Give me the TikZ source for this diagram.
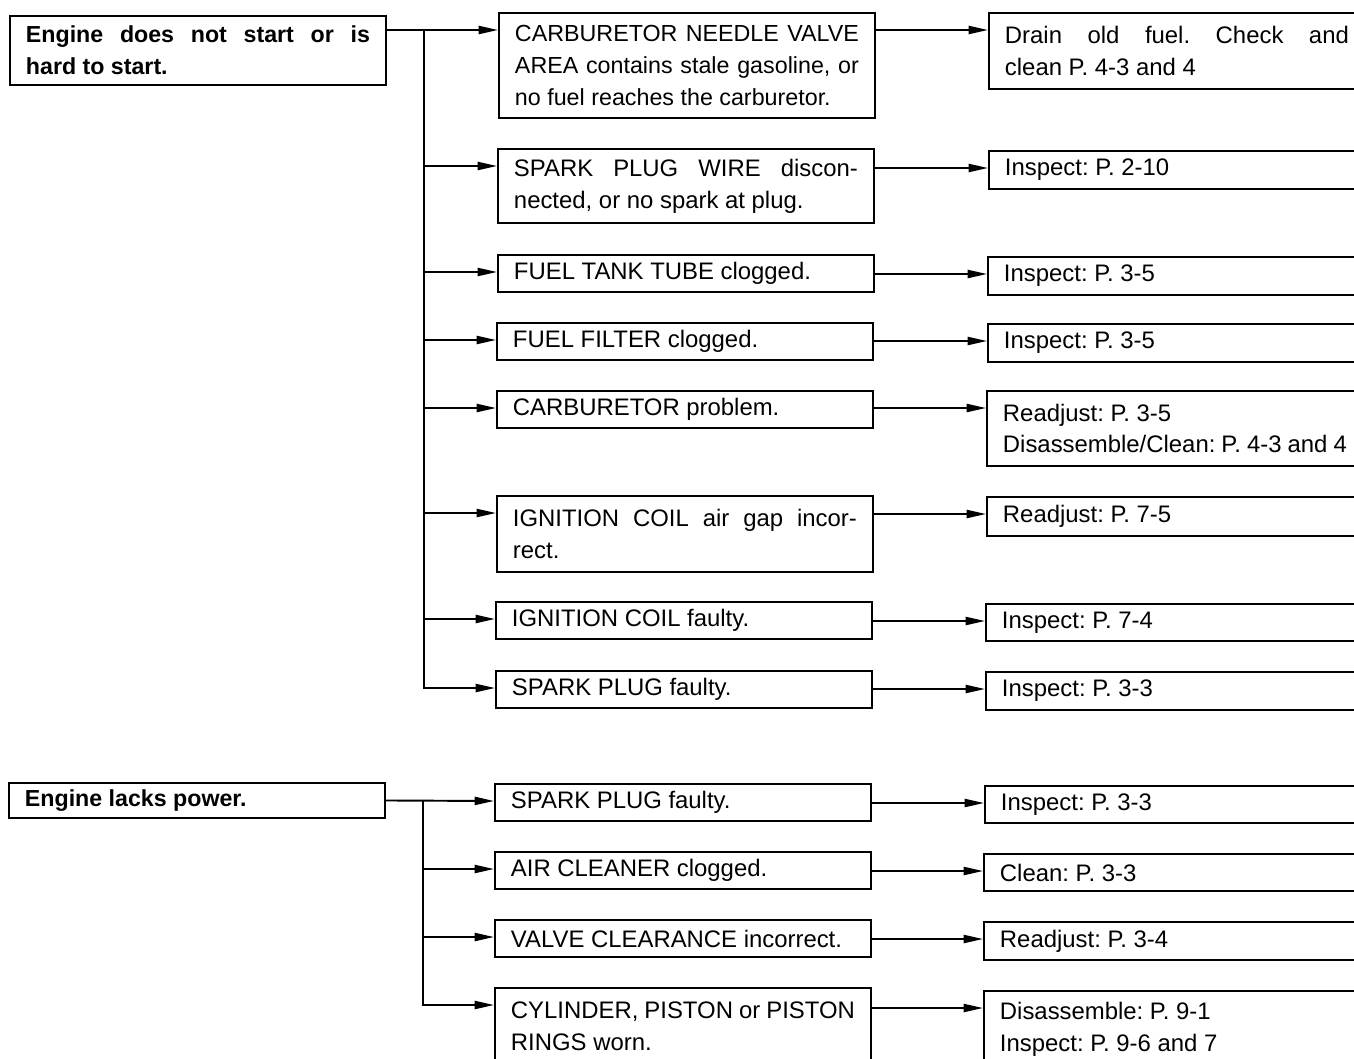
\documentclass[tikz,border=0pt]{standalone}
\usepackage{fontspec}
\setmainfont{Liberation Sans}
\usetikzlibrary{arrows.meta,calc}
\tikzset{
  fault/.style={draw, line width=1.1pt, anchor=north west, align=justify,
    text width=6.88cm, inner xsep=0.32cm, inner ysep=0pt,
    font=\fontsize{13.6}{18.2}\selectfont\frenchspacing},
  remedy/.style={fault},
  symptom/.style={fault, font=\fontsize{13.2}{18.2}\selectfont\bfseries\frenchspacing},
  link/.style={line width=1.1pt},
  flow/.style={link, -{Triangle[length=11pt,width=4.6pt]}}
}
\begin{document}
\begin{tikzpicture}[x=0.02cm, y=-0.02cm]
  \clip (0,0) rectangle (1354,1058);
  % first symptom, its causes (left column) and remedies (right column)
  \node[symptom, minimum height=1.38cm] (start) at (9,15) {Engine does not start or is\linebreak hard to start.};

  \node[fault, minimum height=2.1cm, font=\fontsize{13.25}{18.2}\selectfont\frenchspacing] (c1) at (498,12) {CARBURETOR NEEDLE VALVE\linebreak AREA contains stale gasoline, or\linebreak no fuel reaches the carburetor.};
  \node[fault, minimum height=1.48cm] (c2) at (497,148) {SPARK PLUG WIRE discon-\linebreak nected, or no spark at plug.};
  \node[fault, minimum height=0.74cm] (c3) at (497,254) {FUEL TANK TUBE clogged.};
  \node[fault, minimum height=0.74cm] (c4) at (496,322) {FUEL FILTER clogged.};
  \node[fault, minimum height=0.74cm] (c5) at (496,390) {CARBURETOR problem.};
  \node[fault, minimum height=1.52cm] (c6) at (496,495) {IGNITION COIL air gap incor-\linebreak rect.};
  \node[fault, minimum height=0.74cm] (c7) at (495,601) {IGNITION COIL faulty.};
  \node[fault, minimum height=0.74cm] (c8) at (495,670) {SPARK PLUG faulty.};

  \node[remedy, minimum height=1.52cm] (r1) at (988,12)  {Drain old fuel. Check and\linebreak clean P. 4-3 and 4};
  \node[remedy, minimum height=0.76cm] (r2) at (988,150) {Inspect: P. 2-10};
  \node[remedy, minimum height=0.76cm] (r3) at (987,256) {Inspect: P. 3-5};
  \node[remedy, minimum height=0.76cm] (r4) at (987,323) {Inspect: P. 3-5};
  \node[remedy, minimum height=1.5cm]  (r5) at (986,390) {Readjust: P. 3-5\\Disassemble/Clean: P. 4-3 and 4};
  \node[remedy, minimum height=0.78cm] (r6) at (986,496) {Readjust: P. 7-5};
  \node[remedy, minimum height=0.74cm] (r7) at (985,603) {Inspect: P. 7-4};
  \node[remedy, minimum height=0.76cm] (r8) at (985,671) {Inspect: P. 3-3};

  % second symptom
  \node[symptom, minimum height=0.7cm] (power) at (8,782) {Engine lacks power.};

  \node[fault, minimum height=0.74cm] (d1) at (494,783) {SPARK PLUG faulty.};
  \node[fault, minimum height=0.74cm] (d2) at (494,851) {AIR CLEANER clogged.};
  \node[fault, minimum height=0.74cm] (d3) at (494,919) {VALVE CLEARANCE incorrect.};
  \node[fault, minimum height=1.52cm] (d4) at (494,987) {CYLINDER, PISTON or PISTON\linebreak RINGS worn.};

  \node[remedy, minimum height=0.74cm] (s1) at (984,785) {Inspect: P. 3-3};
  \node[remedy, minimum height=0.74cm] (s2) at (983,853) {Clean: P. 3-3};
  \node[remedy, minimum height=0.76cm] (s3) at (983,921) {Readjust: P. 3-4};
  \node[remedy, minimum height=1.52cm] (s4) at (983,990) {Disassemble: P. 9-1\\Inspect: P. 9-6 and 7};

  % arrow ends, level with the first text line
  \foreach \n in {c1,c2,c3,c4,c5,c6,c7,c8,d1,d2,d3,d4,r1,r2,r3,r4,r5,r6,r7,r8,s1,s2,s3,s4}
    \coordinate (\n-in) at ($(\n.north west)+(0,18)$);

  % symptom -> causes
  \coordinate (t1) at ($(start.east |- c1-in)+(37,0)$);
  \draw[flow] (start.east |- c1-in) -- (c1-in);
  \draw[flow] (t1) |- (c8-in);
  \foreach \c in {c2,c3,c4,c5,c6,c7}
    \draw[flow] (t1 |- \c-in) -- (\c-in);

  \coordinate (t2) at ($(power.east)+(37,0)$);
  \draw[flow] (power.east) -- (d1-in);
  \draw[flow] (t2) |- (d4-in);
  \foreach \c in {d2,d3}
    \draw[flow] (t2 |- \c-in) -- (\c-in);

  % causes -> remedies
  \foreach \c/\r in {c1/r1,c2/r2,c3/r3,c4/r4,c5/r5,c6/r6,c7/r7,c8/r8,d1/s1,d2/s2,d3/s3,d4/s4}
    \draw[flow] (\c.east |- \r-in) -- (\r-in);
\end{tikzpicture}
\end{document}
